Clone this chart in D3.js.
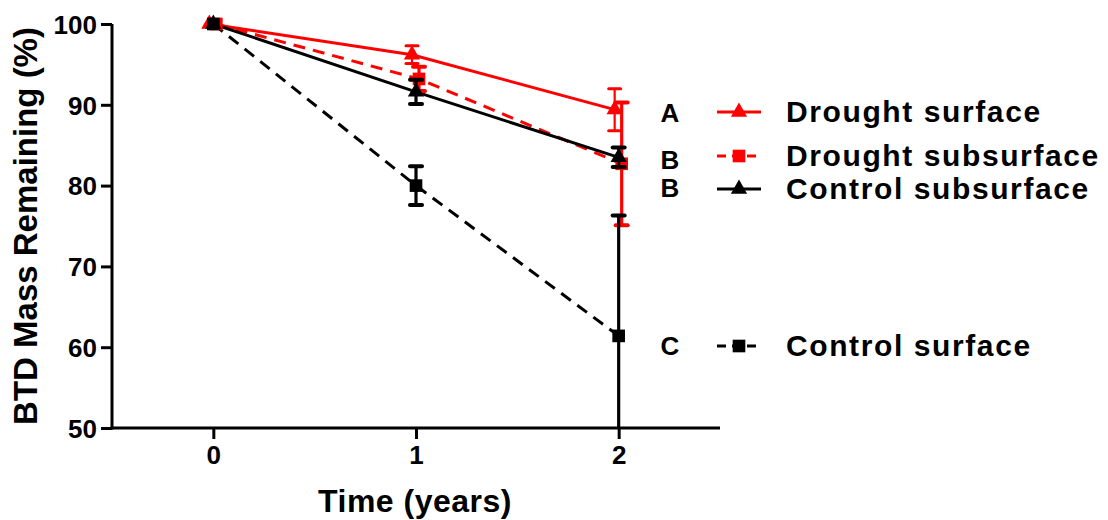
<!DOCTYPE html>
<html>
<head>
<meta charset="utf-8">
<script src="https://cdn.jsdelivr.net/npm/d3@7"></script>
<style>
  html, body { margin: 0; padding: 0; background: #fff; }
  svg { display: block; font-family: "Liberation Sans", Arial, sans-serif; font-weight: bold; }
</style>
</head>
<body>
<svg id="chart" width="1108" height="520"></svg>
<script>
// Sampling times (years)
const times = [0, 1, 2];
const yTicks = [50, 60, 70, 80, 90, 100];

// Series names, letters of significance groups, means and SEM
const seriesNames = ["Drought surface", "Drought subsurface", "Control subsurface", "Control surface"];
const groupLetters = ["A", "B", "B", "C"];
const droughtSurface = [100, 96.2, 89.4];
const droughtSurfaceErr = [0, 1.1, 2.6];
const droughtSubsurface = [100, 93.2, 82.7];
const droughtSubsurfaceErr = [0, 1.5, 7.6];
const controlSubsurface = [100, 91.6, 83.5];
const controlSubsurfaceErr = [0, 1.5, 1.2];
const controlSurface = [100, 80.0, 61.4];
const controlSurfaceErr = [0, 2.4, 14.9];

// nudge: small horizontal pixel offset so overlapping series stay visible
const series = [
  { name: seriesNames[0], letter: groupLetters[0], values: droughtSurface, err: droughtSurfaceErr,
    color: "#ff0000", dash: null, symbol: d3.symbolTriangle, size: 115, errWidth: 2.2, nudge: -4, legendY: 111, letterY: 113 },
  { name: seriesNames[1], letter: groupLetters[1], values: droughtSubsurface, err: droughtSubsurfaceErr,
    color: "#ff0000", dash: "12,8", symbol: d3.symbolSquare, size: 160, errWidth: 3.2, nudge: 3, legendY: 155, letterY: 160 },
  { name: seriesNames[2], letter: groupLetters[2], values: controlSubsurface, err: controlSubsurfaceErr,
    color: "#000000", dash: null, symbol: d3.symbolTriangle, size: 115, errWidth: 3.2, nudge: 0, legendY: 188, letterY: 188 },
  { name: seriesNames[3], letter: groupLetters[3], values: controlSurface, err: controlSurfaceErr,
    color: "#000000", dash: "12,8", symbol: d3.symbolSquare, size: 160, errWidth: 3.2, nudge: 0, legendY: 345, letterY: 346 }
];

const svg = d3.select("#chart");
const plotLeft = 112, plotRight = 720, plotTop = 24, plotBottom = 428;

const x = d3.scaleLinear().domain([-0.5, 2.5]).range([plotLeft, plotRight]);
const y = d3.scaleLinear().domain([50, 100]).range([plotBottom, plotTop]);

// Plot-area clip so bars running past the axis minimum are cut at the baseline
svg.append("defs").append("clipPath").attr("id", "plotClip")
  .append("rect").attr("x", plotLeft).attr("y", 0).attr("width", plotRight - plotLeft + 40).attr("height", plotBottom);

// Axes
const yAxis = svg.append("g").attr("transform", `translate(${plotLeft},0)`)
  .call(d3.axisLeft(y).tickValues(yTicks).tickSize(11).tickPadding(4).tickSizeOuter(0));
const xAxis = svg.append("g").attr("transform", `translate(0,${plotBottom})`)
  .call(d3.axisBottom(x).tickValues(times).tickSize(11).tickPadding(7).tickSizeOuter(0).tickFormat(d3.format("d")));

[yAxis, xAxis].forEach(g => {
  g.select(".domain").attr("stroke", "#000").attr("stroke-width", 3);
  g.selectAll(".tick line").attr("stroke", "#000").attr("stroke-width", 3);
  g.selectAll(".tick text").attr("fill", "#000").attr("font-size", 26)
    .attr("font-family", "Liberation Sans, Arial, sans-serif").attr("font-weight", "bold");
});
yAxis.select(".domain").attr("d", `M0,${plotBottom + 1.5}V${plotTop}`);
xAxis.select(".domain").attr("d", `M${plotLeft - 1.5},0H${plotRight}`);
yAxis.selectAll(".tick text").attr("dy", "0.36em");

// Axis titles
svg.append("text").attr("x", 415).attr("y", 512).attr("text-anchor", "middle")
  .attr("font-size", 32).attr("letter-spacing", 0.5).text("Time (years)");
svg.append("text").attr("transform", `translate(37,${(plotTop + plotBottom) / 2}) rotate(-90)`)
  .attr("text-anchor", "middle").attr("font-size", 33).text("BTD Mass Remaining (%)");

const plot = svg.append("g").attr("clip-path", "url(#plotClip)");

// Connecting lines
series.forEach(s => {
  const line = d3.line().x((d, i) => x(times[i]) + s.nudge).y(d => y(d));
  plot.append("path").datum(s.values).attr("d", line)
    .attr("fill", "none").attr("stroke", s.color).attr("stroke-width", 3)
    .attr("stroke-dasharray", s.dash);
});

// Error bars and markers
series.forEach(s => {
  const g = plot.append("g");
  s.values.forEach((v, i) => {
    if (s.err[i] <= 0) return;
    const cx = x(times[i]) + s.nudge;
    const hi = y(v + s.err[i]), lo = y(v - s.err[i]);
    g.append("line").attr("x1", cx).attr("x2", cx).attr("y1", hi).attr("y2", lo)
      .attr("stroke", s.color).attr("stroke-width", s.errWidth);
    [hi, lo].forEach(yy => g.append("line").attr("x1", cx - 6).attr("x2", cx + 6)
      .attr("y1", yy).attr("y2", yy).attr("stroke", s.color)
      .attr("stroke-width", s.errWidth + 0.8).attr("stroke-linecap", "round"));
  });
  g.selectAll("path").data(s.values).join("path")
    .attr("transform", (d, i) => `translate(${x(times[i]) + s.nudge},${y(d)})`)
    .attr("d", d3.symbol().type(s.symbol).size(s.size))
    .attr("fill", s.color);
});

// Legend with significance letters
const legend = svg.append("g");
series.forEach(s => {
  legend.append("text").attr("x", 670).attr("y", s.letterY).attr("dy", "0.36em")
    .attr("text-anchor", "middle").attr("font-size", 26).text(s.letter);
  legend.append("line").attr("x1", 717).attr("x2", 761).attr("y1", s.legendY + 1).attr("y2", s.legendY + 1)
    .attr("stroke", s.color).attr("stroke-width", 3).attr("stroke-dasharray", s.dash ? "9,6" : null);
  legend.append("path").attr("transform", `translate(739,${s.legendY + 1})`)
    .attr("d", d3.symbol().type(s.symbol).size(s.size)).attr("fill", s.color);
  legend.append("text").attr("x", 786).attr("y", s.legendY).attr("dy", "0.36em")
    .attr("font-size", 30).attr("letter-spacing", 1.6).text(s.name);
});
</script>
</body>
</html>
